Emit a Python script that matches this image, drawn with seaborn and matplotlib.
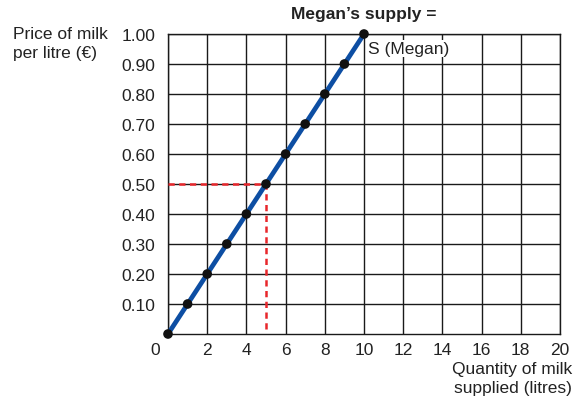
import pandas as pd
import matplotlib.pyplot as plt
import matplotlib.transforms as mtransforms
import seaborn as sns

# Megan's supply schedule (litres, euro per litre)
quantity = [0, 1, 2, 3, 4, 5, 6, 7, 8, 9, 10]
price = [0.0, 0.10, 0.20, 0.30, 0.40, 0.50, 0.60, 0.70, 0.80, 0.90, 1.00]

# reading off the curve at 0.50
guide_price = 0.50
guide_qty = 5

x_ticks = [0, 2, 4, 6, 8, 10, 12, 14, 16, 18, 20]
y_ticks = [0.10, 0.20, 0.30, 0.40, 0.50, 0.60, 0.70, 0.80, 0.90, 1.00]
y_labels = ['0.10', '0.20', '0.30', '0.40', '0.50', '0.60', '0.70', '0.80', '0.90', '1.00']

df = pd.DataFrame({'Quantity': quantity, 'Price': price})

sns.set_style('white')
plt.rcParams['font.family'] = ['Liberation Sans', 'DejaVu Sans']
fs = 12.5

fig = plt.figure(figsize=(5.8, 4.1), dpi=100)
ax = fig.add_axes([168 / 580, 1 - 335 / 410, 392 / 580, 300 / 410])

# guide lines (behind the supply curve)
ax.plot([0, guide_qty], [guide_price, guide_price], color='#e8262b', linestyle=(0, (2.5, 1.8)),
        linewidth=1.8, zorder=3)
ax.plot([guide_qty, guide_qty], [0.017, guide_price], color='#e8262b', linestyle=(0, (2.5, 1.8)),
        linewidth=1.8, zorder=3)

sns.lineplot(data=df, x='Quantity', y='Price', color='#0d4ea3', linewidth=3.4, ax=ax, zorder=4)
sns.scatterplot(data=df, x='Quantity', y='Price', color='#111111', s=48, edgecolor='none',
                ax=ax, zorder=5, clip_on=False)

ax.text(10.2, 0.952, 'S (Megan)', fontsize=fs, va='center', ha='left', zorder=6,
        color='#222222', bbox=dict(facecolor='white', edgecolor='none', pad=0.8))

ax.set_xlim(0, 20)
ax.set_ylim(0, 1.0)
ax.set_xticks(x_ticks)
ax.set_yticks(y_ticks)
ax.set_yticklabels(y_labels)
ax.grid(True, color='#1a1a1a', linewidth=1.0)
ax.set_axisbelow(True)
ax.tick_params(length=0, labelsize=fs, colors='#222222')
ax.tick_params(axis='y', pad=9)
ax.tick_params(axis='x', pad=6)
ax.set_xlabel('')
ax.set_ylabel('')
for s in ax.spines.values():
    s.set_color('#1a1a1a')
    s.set_linewidth(1.0)

# shift the "0" label to sit left of the origin
lbl0 = ax.get_xticklabels()[0]
lbl0.set_transform(lbl0.get_transform() + mtransforms.ScaledTranslation(-0.13, 0, fig.dpi_scale_trans))

fig.text(364 / 580, 1 - 15 / 410, 'Megan\u2019s supply =', ha='center', va='center',
         fontsize=fs, fontweight='bold', color='#222222')
fig.text(13 / 580, 1 - 27 / 410, 'Price of milk\nper litre (\u20ac)', ha='left', va='top',
         fontsize=fs, color='#222222', linespacing=1.35)
fig.text(572 / 580, 1 - 362 / 410, 'Quantity of milk\nsupplied (litres)', ha='right', va='top',
         fontsize=fs, color='#222222', linespacing=1.35, multialignment='right')

fig.savefig('out.png', dpi=100)
